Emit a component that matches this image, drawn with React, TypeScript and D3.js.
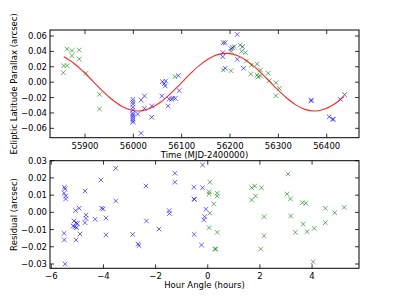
import { useEffect, useRef } from 'react';
import * as d3 from 'd3';

// top panel: parallax vs time (MJD-2400000)
const parBlue: [number, number][] = [
  [55999, -0.0223], [55999, -0.0254], [55999, -0.0284], [55999, -0.0326], [55999, -0.0362],
  [55999, -0.0405], [55999, -0.0427], [55999, -0.045], [55999, -0.0475], [55999, -0.0502],
  [55999, -0.0522], [56009, -0.0414], [56016, -0.0232], [56016, -0.0665], [56023, -0.018],
  [56023, -0.034], [56038, -0.031], [56038, -0.0457], [56059, -0.018], [56060, 0.0006],
  [56064, -0.002], [56066, -0.005], [56067, 0.0015], [56072, -0.031], [56074, -0.022],
  [56079, -0.022], [56082, -0.021], [56087, -0.021], [56093, 0.0084], [56095, -0.011],
  [56215, 0.062], [56186, 0.0513], [56190, 0.0513], [56185, 0.0384], [56185, 0.0331],
  [56190, 0.018], [56202, 0.0435], [56205, 0.045], [56215, 0.0297], [56226, 0.046],
  [56228, 0.018], [56368, -0.0232], [56368, -0.0245], [56405, -0.045], [56412, -0.0483],
  [56414, -0.0483], [56428, -0.0223], [56437, -0.0163],
];
const parGreen: [number, number][] = [
  [55855, 0.0123], [55856, 0.0214], [55863, 0.0214], [55863, 0.043], [55873, 0.041],
  [55873, 0.0344], [55888, 0.0418], [55888, 0.030], [55902, 0.0115], [55930, -0.0158],
  [55930, -0.0349], [56086, 0.0071], [56186, 0.0158], [56202, 0.0149], [56202, 0.040],
  [56209, 0.046], [56221, 0.0483], [56224, 0.040], [56232, 0.0383], [56234, 0.0275],
  [56243, 0.0106], [56244, 0.0219], [56256, 0.0236], [56256, 0.0093], [56258, 0.0067],
  [56263, 0.0158], [56263, 0.008], [56279, 0.0115], [56281, 0.0019], [56295, -0.0007],
  [56302, -0.008], [56295, -0.0176],
];
const fitTime = [55856, 55876, 55896, 55916, 55936, 55956, 55976, 55996, 56016, 56036, 56056,
  56076, 56096, 56116, 56136, 56156, 56176, 56196, 56216, 56236, 56256, 56276, 56296, 56316,
  56336, 56356, 56376, 56396, 56416, 56436];
const fitPar = [0.0329, 0.0249, 0.014, 0.0014, -0.0113, -0.0226, -0.0314, -0.0365, -0.0373,
  -0.0336, -0.0261, -0.0155, -0.0031, 0.0097, 0.0214, 0.0305, 0.0361, 0.0374, 0.0344, 0.0273,
  0.017, 0.0047, -0.0082, -0.02, -0.0295, -0.0357, -0.0375, -0.0349, -0.0284, -0.0184];
const timeTicks = [55900, 56000, 56100, 56200, 56300, 56400];
const parTicks = [-0.06, -0.04, -0.02, 0, 0.02, 0.04, 0.06];

// bottom panel: residual vs hour angle
const resBlue: [number, number][] = [
  [-5.47, -0.030], [-5.51, -0.0122], [-5.50, -0.016], [-5.50, 0.0146], [-5.47, 0.0136],
  [-5.51, 0.0111], [-5.45, 0.0095], [-5.45, 0.0078], [-5.07, 0.001], [-4.93, 0.0024],
  [-5.13, -0.005], [-5.16, -0.008], [-5.05, -0.006], [-5.0, -0.0065], [-5.1, -0.0085],
  [-5.03, -0.0089], [-4.90, -0.0126], [-5.05, -0.016], [-4.71, 0.0124], [-4.67, -0.0015],
  [-4.67, -0.0035], [-4.71, -0.006], [-4.32, -0.004], [-4.10, 0.0188], [-4.07, 0.0024],
  [-4.01, 0.002], [-3.90, -0.0131], [-3.90, -0.0033], [-3.53, 0.0256], [-3.53, 0.0066],
  [-2.88, -0.0128], [-2.67, -0.0184], [-2.64, -0.0193], [-2.37, 0.0153], [-2.35, -0.005],
  [-1.87, -0.0097], [-1.48, 0.001], [-1.47, -0.0007], [-1.26, 0.0227], [-1.26, 0.0175],
  [-0.53, 0.0146], [-0.53, 0.0078], [-0.51, 0.0075], [-0.52, -0.0128], [-0.2, 0.0275],
  [-0.2, 0.0143], [-0.07, 0.0018], [-0.15, -0.0044], [-0.12, -0.0025], [-0.24, -0.019],
];
const resGreen: [number, number][] = [
  [0.08, 0.0175], [0.05, 0.012], [0.05, 0.0107], [0.36, 0.0111], [0.36, 0.0094],
  [0.23, 0.0049], [0.08, -0.0005], [0.05, -0.0089], [0.36, -0.0116], [0.27, -0.0213],
  [0.31, -0.0213], [1.68, 0.0143], [1.80, 0.0153], [2.06, 0.0143], [1.68, 0.0072],
  [1.83, 0.0095], [2.16, -0.0025], [2.16, -0.0136], [2.03, -0.0213], [3.08, 0.0223],
  [3.04, 0.0107], [3.17, 0.0078], [3.18, -0.0021], [3.36, -0.0116], [3.63, 0.0056],
  [3.76, 0.0053], [3.66, -0.0068], [3.81, -0.0112], [4.08, -0.0093], [4.04, -0.0287],
  [4.51, 0.0024], [4.51, -0.006], [4.87, -0.0002], [5.23, 0.0029],
];
const haTicks = [-6, -4, -2, 0, 2, 4];
const resTicks = [-0.03, -0.02, -0.01, 0, 0.01, 0.02, 0.03];

const fmt = (digits: number) => (v: number) => {
  const s = Math.abs(v).toFixed(digits);
  return v < -1e-9 ? '\u2212' + s : s;
};

function App() {
  const ref = useRef<SVGSVGElement>(null);

  useEffect(() => {
    const svg = d3.select(ref.current);
    svg.selectAll('*').remove();
    const left = 50, right = 359;
    const font = 'DejaVu Sans, sans-serif';

    const panel = (
      top: number, bottom: number,
      xs: d3.ScaleLinear<number, number>, ys: d3.ScaleLinear<number, number>,
      xt: number[], yt: number[], xf: (v: number) => string, yf: (v: number) => string,
      xlabel: string, ylabel: string, ylabelX: number,
      series: { pts: [number, number][]; color: string }[],
    ) => {
      const g = svg.append('g');
      const tl = 4;
      xt.forEach(t => {
        const x = xs(t);
        g.append('line').attr('x1', x).attr('x2', x).attr('y1', bottom).attr('y2', bottom - tl).attr('stroke', '#000').attr('stroke-width', 0.8);
        g.append('line').attr('x1', x).attr('x2', x).attr('y1', top).attr('y2', top + tl).attr('stroke', '#000').attr('stroke-width', 0.8);
        g.append('text').attr('x', x).attr('y', bottom + 11).attr('text-anchor', 'middle')
          .attr('font-family', font).attr('font-size', 8.5).text(xf(t));
      });
      yt.forEach(t => {
        const y = ys(t);
        g.append('line').attr('x1', left).attr('x2', left + tl).attr('y1', y).attr('y2', y).attr('stroke', '#000').attr('stroke-width', 0.8);
        g.append('line').attr('x1', right).attr('x2', right - tl).attr('y1', y).attr('y2', y).attr('stroke', '#000').attr('stroke-width', 0.8);
        g.append('text').attr('x', left - 3).attr('y', y + 3).attr('text-anchor', 'end')
          .attr('font-family', font).attr('font-size', 8.5).text(yf(t));
      });
      const clip = g.append('g');
      series.forEach(s => {
        clip.selectAll(null).data(s.pts).enter().append('path')
          .attr('d', d => {
            const x = xs(d[0]), y = ys(d[1]), r = 2.3;
            return `M${x - r},${y - r}L${x + r},${y + r}M${x - r},${y + r}L${x + r},${y - r}`;
          })
          .attr('stroke', s.color).attr('stroke-opacity', 0.6).attr('stroke-width', 1).attr('fill', 'none');
      });
      g.append('rect').attr('x', left).attr('y', top).attr('width', right - left).attr('height', bottom - top)
        .attr('fill', 'none').attr('stroke', '#000').attr('stroke-width', 1);
      g.append('text').attr('x', (left + right) / 2).attr('y', bottom + 20).attr('text-anchor', 'middle')
        .attr('font-family', font).attr('font-size', 8.5).text(xlabel);
      g.append('text').attr('transform', `translate(${ylabelX},${(top + bottom) / 2}) rotate(-90)`)
        .attr('text-anchor', 'middle').attr('font-family', font).attr('font-size', 8.5).text(ylabel);
      return clip;
    };

    const xTop = d3.scaleLinear().domain([55827.6, 56466.8]).range([left, right]);
    const yTop = d3.scaleLinear().domain([-0.0722, 0.0678]).range([137.7, 30]);
    const gTop = panel(30, 137.7, xTop, yTop, timeTicks, parTicks, d => String(d), fmt(2),
      'Time (MJD-2400000)', 'Ecliptic Latitude Parallax (arcsec)', 17,
      [{ pts: parBlue, color: '#0000ff' }, { pts: parGreen, color: '#008000' }]);
    const line = d3.line<number>()
      .x((_, i) => xTop(fitTime[i]))
      .y(d => yTop(d))
      .curve(d3.curveCatmullRom);
    gTop.append('path').datum(fitPar).attr('d', line).attr('fill', 'none')
      .attr('stroke', '#ff0000').attr('stroke-opacity', 0.85).attr('stroke-width', 1.1);

    const xBot = d3.scaleLinear().domain([-6.05, 5.8]).range([left, right]);
    const yBot = d3.scaleLinear().domain([-0.0325, 0.03]).range([268.3, 160.7]);
    panel(160.7, 268.3, xBot, yBot, haTicks, resTicks, fmt(0), fmt(2),
      'Hour Angle (hours)', 'Residual (arcsec)', 17,
      [{ pts: resBlue, color: '#0000ff' }, { pts: resGreen, color: '#008000' }]);
  }, []);

  return (
    <svg ref={ref} width={399} height={299}
      style={{ position: 'absolute', left: 0, top: 0, background: '#fff' }} />
  );
}

export default App;
